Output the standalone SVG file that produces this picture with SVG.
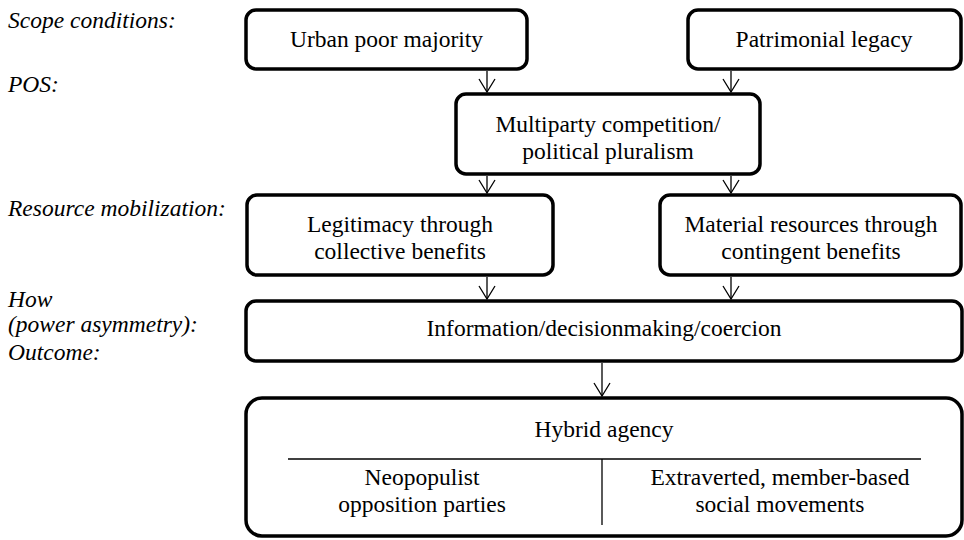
<svg xmlns="http://www.w3.org/2000/svg" width="964" height="540" viewBox="0 0 964 540">
<style>
  .box { fill: #ffffff; stroke: #000000; stroke-width: 3.5; }
  .t { font-size: 23.5px; fill: #000000; text-anchor: middle; }
  .lbl { font-size: 23.5px; font-style: italic; fill: #000000; }
  .conn { stroke: #000000; stroke-width: 1.3; fill: none; }
  .rule { stroke: #000000; stroke-width: 1.3; fill: none; }
</style>
<defs>
  <marker id="arr" markerUnits="userSpaceOnUse" orient="auto" refX="0" refY="0" markerWidth="20" markerHeight="20" viewBox="-15 -10 16 20" overflow="visible">
    <path d="M-13,-8 L0,0 L-13,8" fill="none" stroke="#000000" stroke-width="1.3"/>
  </marker>
</defs>
<rect width="964" height="540" fill="#ffffff"/>

<g font-family="Liberation Serif, Tinos, Times New Roman, Noto Serif, DejaVu Serif, serif">
<g id="labels">
  <text class="lbl" x="8" y="28">Scope conditions:</text>
  <text class="lbl" x="8" y="92">POS:</text>
  <text class="lbl" x="8" y="216">Resource mobilization:</text>
  <text class="lbl" x="8" y="307">How</text>
  <text class="lbl" x="8" y="332">(power asymmetry):</text>
  <text class="lbl" x="8" y="360">Outcome:</text>
</g>

<g id="urban-poor">
  <rect class="box" x="246" y="10" width="281" height="59" rx="10"/>
  <text class="t" x="386.5" y="47">Urban poor majority</text>
</g>
<g id="patrimonial">
  <rect class="box" x="688" y="10" width="273" height="59" rx="10"/>
  <text class="t" x="824" y="47">Patrimonial legacy</text>
</g>
<g id="multiparty">
  <rect class="box" x="456" y="94" width="304" height="80" rx="10"/>
  <text class="t" x="608" y="132">Multiparty competition/</text>
  <text class="t" x="608" y="159">political pluralism</text>
</g>
<g id="legitimacy">
  <rect class="box" x="247" y="195" width="306" height="80" rx="10"/>
  <text class="t" x="400" y="232">Legitimacy through</text>
  <text class="t" x="400" y="259">collective benefits</text>
</g>
<g id="material">
  <rect class="box" x="660" y="195" width="301" height="80" rx="10"/>
  <text class="t" x="811" y="232">Material resources through</text>
  <text class="t" x="811" y="259">contingent benefits</text>
</g>
<g id="information">
  <rect class="box" x="246" y="301" width="716" height="60" rx="10"/>
  <text class="t" x="604" y="336">Information/decisionmaking/coercion</text>
</g>
<g id="hybrid">
  <rect class="box" x="246" y="398" width="716" height="138" rx="16"/>
  <text class="t" x="604" y="437">Hybrid agency</text>
  <line class="rule" x1="288" y1="459" x2="921" y2="459"/>
  <line class="rule" x1="602" y1="459" x2="602" y2="525"/>
  <text class="t" x="422" y="485">Neopopulist</text>
  <text class="t" x="422" y="512">opposition parties</text>
  <text class="t" x="780" y="485">Extraverted, member-based</text>
  <text class="t" x="780" y="512">social movements</text>
</g>
</g>

<g id="connectors">
  <line class="conn" x1="487" y1="71" x2="487" y2="92" marker-end="url(#arr)"/>
  <line class="conn" x1="731" y1="71" x2="731" y2="92" marker-end="url(#arr)"/>
  <line class="conn" x1="487" y1="176" x2="487" y2="193" marker-end="url(#arr)"/>
  <line class="conn" x1="731" y1="176" x2="731" y2="193" marker-end="url(#arr)"/>
  <line class="conn" x1="487" y1="277" x2="487" y2="299" marker-end="url(#arr)"/>
  <line class="conn" x1="731" y1="277" x2="731" y2="299" marker-end="url(#arr)"/>
  <line class="conn" x1="602" y1="363" x2="602" y2="396" marker-end="url(#arr)"/>
</g>
</svg>
